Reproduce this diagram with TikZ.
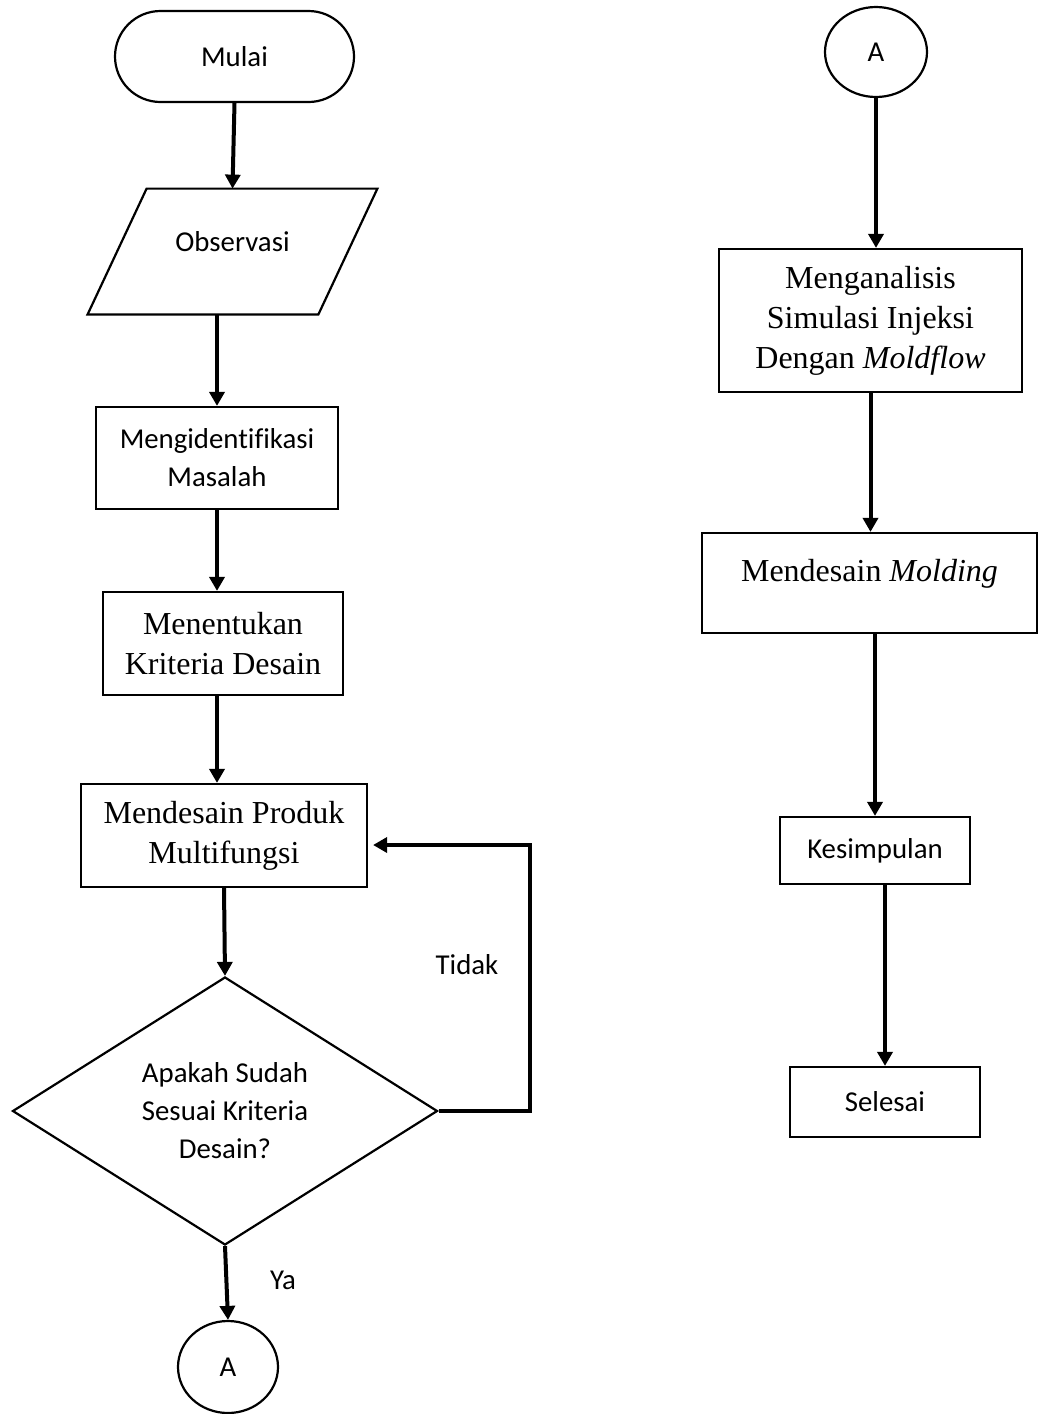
\documentclass[tikz,border=0pt]{standalone}
\usepackage{fontspec}
\setmainfont{Carlito}[Ligatures=NoCommon]
\newfontfamily\tnr{Liberation Serif}[Ligatures=NoCommon]
\usepackage{tikz}
\usetikzlibrary{arrows.meta, positioning, shapes.geometric, calc}

\begin{document}
\begin{tikzpicture}[
  x=0.5pt, y=-0.5pt,
  every node/.style={font=\fontsize{14.4}{19}\selectfont},
  term/.style={draw, line width=1.1pt, rounded corners=22.75pt,
               minimum width=119.5pt, minimum height=45.5pt},
  io/.style={minimum width=144.5pt, minimum height=62.5pt,
             text height=9pt, text depth=9pt},
  box/.style={draw, line width=1.1pt, align=center, inner sep=2pt},
  serifbox/.style={box, font=\tnr\fontsize{16}{20}\selectfont},
  decision/.style={draw, line width=1.1pt, diamond, shape aspect=1.6, inner sep=0pt,
                   align=center, minimum width=212.5pt, minimum height=134pt},
  conn/.style={draw, line width=1.1pt, ellipse, inner sep=0pt},
  arrow/.style={-{Triangle[length=7pt, width=7.5pt]}, line width=2pt}
]
\useasboundingbox (0,0) rectangle (1039,1414);
\node[term] (start) at (234.5,56.5) {Mulai};
\node[io] (obs) at (232.5,251.5) {Observasi};
\draw[line width=1.1pt] (obs.south west) -- ([xshift=29.5pt]obs.north west)
  -- (obs.north east) -- ([xshift=-29.5pt]obs.south east) -- cycle;
\node[box, minimum width=121pt, minimum height=51pt] (ident) at (217,458) {Mengidentifikasi\\Masalah};
\node[serifbox, minimum width=120pt, minimum height=51.5pt] (crit) at (223,643.5) {Menentukan\\Kriteria Desain};
\node[serifbox, minimum width=143pt, minimum height=51.5pt] (prod) at (224,835.5) {Mendesain Produk\\Multifungsi};
\node[decision] (dec) at (225,1111) {Apakah Sudah\\Sesuai Kriteria\\Desain?};
\node[conn, minimum width=50pt, minimum height=46pt] (endA) at (228,1367) {A};
\node (tidak) at (467,965) {Tidak};
\node (ya) at (283,1280) {Ya};
\coordinate (loop) at (530,845);

\node[conn, minimum width=51pt, minimum height=45pt] (topA) at (876,52) {A};
\node[serifbox, minimum width=151.5pt, minimum height=71.5pt] (anal) at (870.5,320.5) {Menganalisis\\Simulasi Injeksi\\Dengan \textit{Moldflow}};
\node[serifbox, minimum width=167.5pt, minimum height=50pt, text height=11pt, text depth=13pt] (mold) at (869.5,583) {Mendesain \textit{Molding}};
\node[box, minimum width=95pt, minimum height=33.5pt] (kes) at (875,850.5) {Kesimpulan};
\node[box, minimum width=95pt, minimum height=35pt] (sel) at (885,1102) {Selesai};

\draw[arrow] (start.south) -- (obs.north);
\draw[arrow] (obs.south -| ident.north) -- (ident.north);
\draw[arrow] (ident.south) -- (ident.south |- crit.north);
\draw[arrow] ([xshift=-3pt]crit.south) -- ([xshift=-3pt]crit.south |- prod.north);
\draw[arrow] (prod.south) -- (dec.north);
\draw[arrow] (dec.south) -- (endA.north);
\draw[arrow, shorten >=2.5pt] (dec.east) -| (loop) -- (loop -| prod.east);

\draw[arrow] (topA.south) -- (topA.south |- anal.north);
\draw[arrow] (anal.south) -- (anal.south |- mold.north);
\draw[arrow] (kes.north |- mold.south) -- (kes.north);
\draw[arrow] (sel.north |- kes.south) -- (sel.north);
\end{tikzpicture}
\end{document}
